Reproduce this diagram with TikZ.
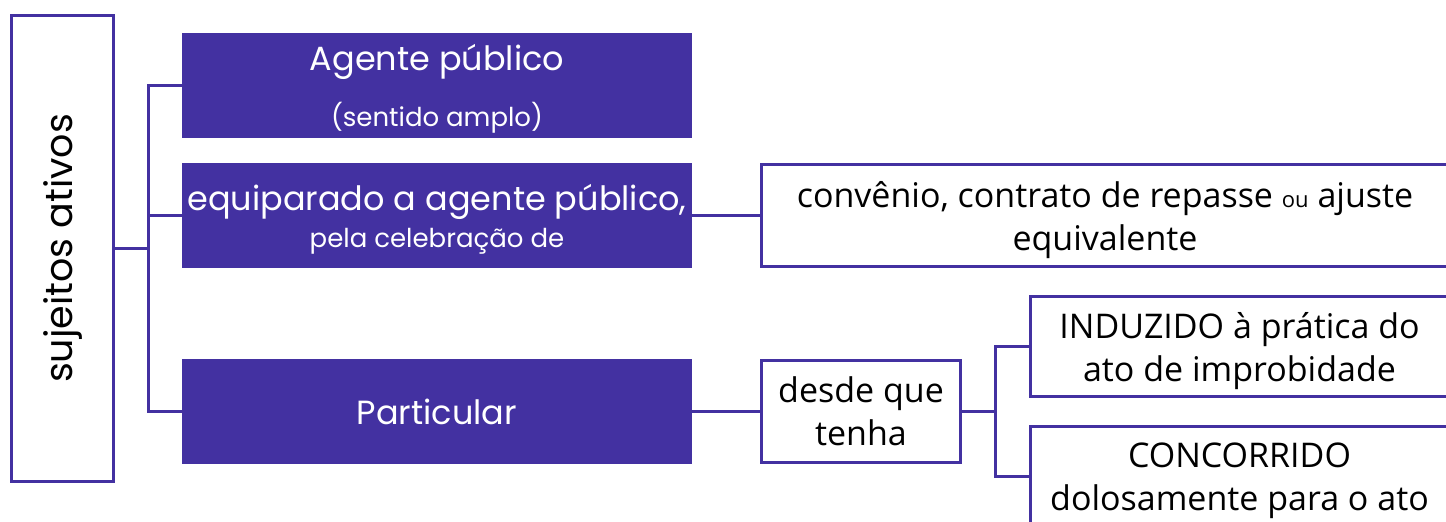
\documentclass[tikz,border=0pt]{standalone}
\usepackage{fontspec}
\setmainfont{Open Sans}
\newfontfamily\geom{Poppins}
\usetikzlibrary{positioning}
\definecolor{roxo}{HTML}{4331A1}
\newcommand{\grande}{\fontsize{34}{43}\selectfont}
\newcommand{\branca}{\geom\fontsize{33.5}{40}\selectfont}
\newcommand{\pequeno}{\fontsize{22}{26}\selectfont}
\newcommand{\brancapeq}{\geom\fontsize{26}{30}\selectfont}
\tikzset{
  caixa/.style={draw=roxo, line width=3pt, fill=white, text=black, inner sep=0pt,
    outer sep=0pt, align=center, text depth=0pt, font=\grande},
  cheia/.style={fill=roxo, text=white, inner sep=0pt, outer sep=0pt, align=center,
    text depth=0pt, minimum width=510pt, minimum height=105pt, font=\branca},
  liga/.style={draw=roxo, line width=3pt},
}

\begin{document}
\begin{tikzpicture}[x=1pt,y=-1pt]
    \useasboundingbox (0,0) rectangle (1446,522);
    \clip (0,0) rectangle (1446,522);

    % caixa da esquerda
    \node[caixa, minimum width=102pt, minimum height=466pt] (suj) at (62.5,248.5)
        {\rotatebox{90}{\geom\fontsize{38}{44}\selectfont sujeitos ativos}};

    % primeiro nivel
    \node[cheia] (agente) at (437,85.5)
        {Agente público\\[16pt]{\brancapeq (sentido amplo)}};
    \node[cheia] (equip) at (437,215.5)
        {equiparado a agente público,\\[-3pt]{\brancapeq pela celebração de}};
    \node[cheia] (partic) at (437,411.5) {Particular};

    % segundo nivel
    \node[caixa, minimum width=687pt, minimum height=102pt] (conv) at (1105,215.5)
        {convênio, contrato de repasse {\pequeno ou} ajuste\\equivalente};
    \node[caixa, minimum width=199pt, minimum height=102pt] (desde) at (861,411.5)
        {desde que\\tenha};

    % terceiro nivel
    \node[caixa, minimum width=418pt, minimum height=100pt] (induz) at (1239.5,346.5)
        {INDUZIDO à prática do\\ato de improbidade};
    \node[caixa, minimum width=418pt, minimum height=100pt] (concor) at (1239.5,476.5)
        {CONCORRIDO\\dolosamente para o ato};

    % ligacoes
    \coordinate (j1) at (148,248.5);
    \draw[liga] (suj.east) -- (j1) |- (agente.west);
    \draw[liga] (j1) |- (equip.west);
    \draw[liga] (j1) |- (partic.west);
    \draw[liga] (equip.east) -- (conv.west);
    \draw[liga] (partic.east) -- (desde.west);
    \coordinate (j2) at (995,411.5);
    \draw[liga] (desde.east) -- (j2) |- (induz.west);
    \draw[liga] (j2) |- (concor.west);
\end{tikzpicture}
\end{document}
